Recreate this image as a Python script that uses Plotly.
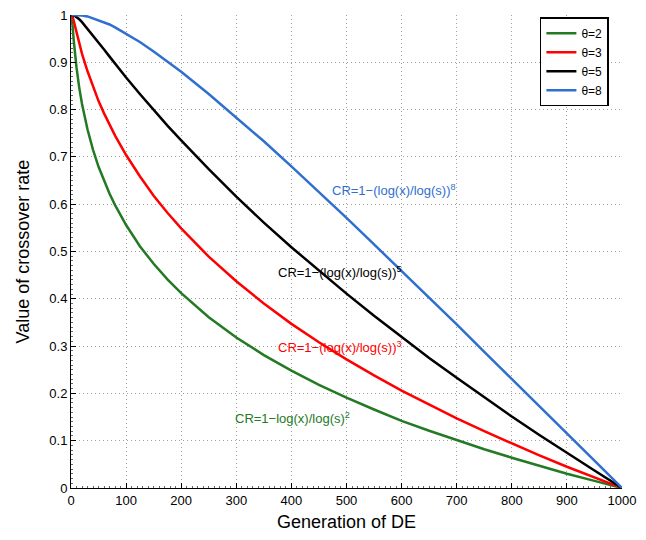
import plotly.graph_objects as go

# Generation of DE (x values read along the axis)
generation = [1, 2, 3, 5, 7, 10, 15, 20, 30, 40, 50, 60, 70, 80, 100, 125, 150, 175, 200,
              250, 300, 350, 400, 450, 500, 550, 600, 650, 700, 750, 800, 850, 900, 950, 1000]

# Value of crossover rate for each theta
cr_theta2 = [1.000, 0.990, 0.975, 0.946, 0.921, 0.889, 0.846, 0.812, 0.758, 0.715, 0.679,
             0.649, 0.622, 0.598, 0.556, 0.511, 0.474, 0.441, 0.412, 0.361, 0.318, 0.281,
             0.248, 0.218, 0.191, 0.166, 0.142, 0.121, 0.101, 0.082, 0.064, 0.047, 0.030,
             0.015, 0.000]
cr_theta3 = [1.000, 0.999, 0.996, 0.987, 0.978, 0.963, 0.940, 0.918, 0.881, 0.848, 0.818,
             0.792, 0.767, 0.745, 0.704, 0.659, 0.618, 0.582, 0.549, 0.489, 0.437, 0.390,
             0.347, 0.308, 0.272, 0.238, 0.206, 0.176, 0.147, 0.120, 0.094, 0.069, 0.045,
             0.022, 0.000]
cr_theta5 = [1.000, 1.000, 1.000, 0.999, 0.998, 0.996, 0.991, 0.985, 0.971, 0.957, 0.942,
             0.927, 0.912, 0.897, 0.868, 0.833, 0.799, 0.766, 0.735, 0.674, 0.616, 0.561,
             0.509, 0.459, 0.411, 0.364, 0.319, 0.275, 0.233, 0.192, 0.151, 0.112, 0.074,
             0.037, 0.000]
cr_theta8 = [1.000, 1.000, 1.000, 1.000, 1.000, 1.000, 0.999, 0.999, 0.997, 0.993, 0.989,
             0.985, 0.980, 0.974, 0.961, 0.943, 0.923, 0.902, 0.880, 0.833, 0.784, 0.733,
             0.680, 0.626, 0.571, 0.515, 0.459, 0.403, 0.346, 0.288, 0.231, 0.173, 0.116,
             0.058, 0.000]

series_names = ["θ=2", "θ=3", "θ=5", "θ=8"]
series_values = [cr_theta2, cr_theta3, cr_theta5, cr_theta8]
series_colors = ["#237a23", "#ff0000", "#000000", "#2f6fd0"]

x_ticks = [0, 100, 200, 300, 400, 500, 600, 700, 800, 900, 1000]
y_ticks = [0, 0.1, 0.2, 0.3, 0.4, 0.5, 0.6, 0.7, 0.8, 0.9, 1]
y_tick_labels = ["0", "0.1", "0.2", "0.3", "0.4", "0.5", "0.6", "0.7", "0.8", "0.9", "1"]

labels = ["CR=1−log(x)/log(s)<sup>2</sup>",
          "CR=1−(log(x)/log(s))<sup>3</sup>",
          "CR=1−(log(x)/log(s))<sup>5</sup>",
          "CR=1−(log(x)/log(s))<sup>8</sup>"]
label_x = [296, 374, 374, 472]
label_y = [0.148, 0.298, 0.457, 0.630]

FONT = "Liberation Sans, Arial, Helvetica, sans-serif"

fig = go.Figure()
for name, vals, col in zip(series_names, series_values, series_colors):
    fig.add_trace(go.Scatter(x=generation, y=vals, mode="lines", name=name,
                             line=dict(color=col, width=2.5)))

for txt, lx, ly, col in zip(labels, label_x, label_y, series_colors):
    fig.add_annotation(x=lx, y=ly, text=txt, showarrow=False, xanchor="left", yanchor="middle",
                       borderpad=0, font=dict(family=FONT, size=13, color=col))

axis_common = dict(
    showline=True, linecolor="black", linewidth=1, mirror=False,
    ticks="inside", ticklen=5, tickcolor="black", tickwidth=1,
    showgrid=True, gridcolor="#a0a0a0", griddash="1px,3px", gridwidth=1,
    zeroline=False, automargin=False, ticklabeloverflow="allow",
    tickfont=dict(family=FONT, size=13, color="black"),
)

fig.update_xaxes(range=[0, 1000], tickvals=x_ticks, ticktext=[str(v) for v in x_ticks],
                 minor=dict(ticks="inside", ticklen=2, tickcolor="#666666", dtick=10, showgrid=False),
                 title=dict(text="Generation of DE", font=dict(family=FONT, size=18, color="black"),
                            standoff=8),
                 **axis_common)
fig.update_yaxes(range=[0, 1], tickvals=y_ticks, ticktext=y_tick_labels,
                 minor=dict(ticks="inside", ticklen=2, tickcolor="#666666", dtick=0.01, showgrid=False),
                 title=dict(text="Value of crossover rate", font=dict(family=FONT, size=18, color="black"),
                            standoff=15),
                 **axis_common)

# the page adds an 8px body margin, so the figure is sized to fill the rest of the window
fig.update_layout(
    width=638, height=532,
    margin=dict(l=63, r=24, t=7, b=52),
    paper_bgcolor="white", plot_bgcolor="white",
    font=dict(family=FONT, size=13, color="black"),
    legend=dict(x=0.851, y=0.995, xanchor="left", yanchor="top",
                bordercolor="black", borderwidth=1.5, bgcolor="white",
                font=dict(family=FONT, size=12, color="black"),
                itemwidth=30, tracegroupgap=0),
    showlegend=True,
)

fig.write_html("out.html")
